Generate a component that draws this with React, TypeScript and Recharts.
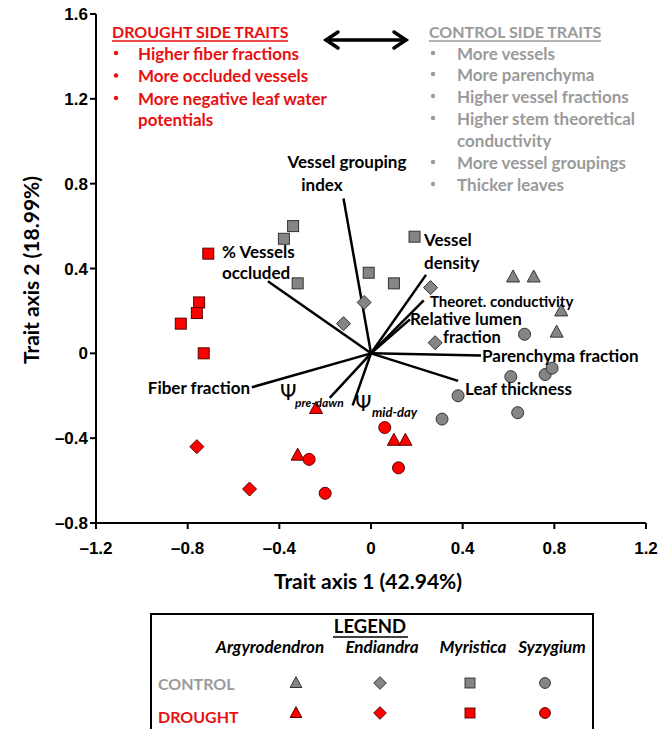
import { ScatterChart, Scatter, XAxis, YAxis, ReferenceLine } from "recharts";

// axis ticks
const xTicks = [-1.2, -0.8, -0.4, 0, 0.4, 0.8, 1.2];
const yTicks = [-0.8, -0.4, 0, 0.4, 0.8, 1.2, 1.6];

// site scores, control trees
const argyControl = [
  [0.62, 0.36],
  [0.71, 0.36],
  [0.83, 0.2],
  [0.81, 0.1],
];
const endiControl = [
  [-0.03, 0.24],
  [-0.12, 0.14],
  [0.26, 0.31],
  [0.28, 0.05],
];
const myriControl = [
  [-0.34, 0.6],
  [-0.38, 0.54],
  [-0.32, 0.33],
  [-0.01, 0.38],
  [0.1, 0.33],
  [0.19, 0.55],
];
const syzyControl = [
  [0.67, 0.09],
  [0.61, -0.11],
  [0.76, -0.1],
  [0.79, -0.07],
  [0.38, -0.2],
  [0.31, -0.31],
  [0.64, -0.28],
];

// site scores, drought trees
const argyDrought = [
  [-0.24, -0.26],
  [-0.32, -0.48],
  [0.1, -0.41],
  [0.15, -0.41],
];
const endiDrought = [
  [-0.76, -0.44],
  [-0.53, -0.64],
];
const myriDrought = [
  [-0.71, 0.47],
  [-0.75, 0.24],
  [-0.76, 0.19],
  [-0.83, 0.14],
  [-0.73, 0.0],
];
const syzyDrought = [
  [0.06, -0.35],
  [-0.27, -0.5],
  [-0.2, -0.66],
  [0.12, -0.54],
];

// trait vectors (loadings)
const traitVectors = [
  { name: "Vessel grouping index", x: -0.12, y: 0.73 },
  { name: "% Vessels occluded", x: -0.45, y: 0.34 },
  { name: "Vessel density", x: 0.24, y: 0.37 },
  { name: "Theoret. conductivity", x: 0.23, y: 0.25 },
  { name: "Relative lumen fraction", x: 0.17, y: 0.16 },
  { name: "Parenchyma fraction", x: 0.48, y: -0.01 },
  { name: "Leaf thickness", x: 0.38, y: -0.13 },
  { name: "Fiber fraction", x: -0.52, y: -0.16 },
  { name: "Psi pre-dawn", x: -0.18, y: -0.21 },
  { name: "Psi mid-day", x: -0.08, y: -0.245 },
];

const droughtTraits = [
  "Higher fiber fractions",
  "More occluded vessels",
  "More negative leaf water",
];
const controlTraits = [
  "More vessels",
  "More parenchyma",
  "Higher vessel fractions",
  "Higher stem theoretical",
  "More vessel groupings",
  "Thicker leaves",
];

const species = ["Argyrodendron", "Endiandra", "Myristica", "Syzygium"];

const GREY = "#858585";
const GREY_EDGE = "#333333";
const RED = "#ff0000";
const RED_EDGE = "#5a0000";
const RED_TEXT = "#e81010";
const GREY_TEXT = "#9a9a9a";
const FONT = "Lato, 'Open Sans', sans-serif";

const toPoints = (arr: number[][]) => arr.map(([x, y]) => ({ x, y }));

function drawMarker(kind: string, cx: number, cy: number, fill: string, stroke: string, s = 1) {
  if (kind === "triangle") {
    return (
      <polygon
        points={`${cx},${cy - 7 * s} ${cx - 6.5 * s},${cy + 5 * s} ${cx + 6.5 * s},${cy + 5 * s}`}
        fill={fill}
        stroke={stroke}
        strokeWidth={1}
      />
    );
  }
  if (kind === "diamond") {
    return (
      <polygon
        points={`${cx},${cy - 7 * s} ${cx + 7 * s},${cy} ${cx},${cy + 7 * s} ${cx - 7 * s},${cy}`}
        fill={fill}
        stroke={stroke}
        strokeWidth={1}
      />
    );
  }
  if (kind === "square") {
    return (
      <rect
        x={cx - 5.5 * s}
        y={cy - 5.5 * s}
        width={11 * s}
        height={11 * s}
        fill={fill}
        stroke={stroke}
        strokeWidth={1}
      />
    );
  }
  return <circle cx={cx} cy={cy} r={6 * s} fill={fill} stroke={stroke} strokeWidth={1} />;
}

const shapeOf = (kind: string, fill: string, stroke: string) => (props: any) =>
  drawMarker(kind, props.cx, props.cy, fill, stroke);

const fmt = (v: number) => (v < 0 ? `\u2013${Math.abs(v)}` : `${v}`);

const series = [
  { data: argyControl, kind: "triangle", fill: GREY, stroke: GREY_EDGE },
  { data: endiControl, kind: "diamond", fill: GREY, stroke: GREY_EDGE },
  { data: myriControl, kind: "square", fill: GREY, stroke: GREY_EDGE },
  { data: syzyControl, kind: "circle", fill: GREY, stroke: GREY_EDGE },
  { data: argyDrought, kind: "triangle", fill: RED, stroke: RED_EDGE },
  { data: endiDrought, kind: "diamond", fill: RED, stroke: RED_EDGE },
  { data: myriDrought, kind: "square", fill: RED, stroke: RED_EDGE },
  { data: syzyDrought, kind: "circle", fill: RED, stroke: RED_EDGE },
];

export default function App() {
  const tickStyle = {
    fill: "#000",
    fontSize: 17,
    fontWeight: "bold" as const,
    fontFamily: "'Liberation Sans', Arial, sans-serif",
  };
  const lbl = { fontFamily: FONT, fontWeight: 700, fontSize: 17, fill: "#000" };
  const legendX = [296, 380, 470, 545];
  const legendNameX = [270, 382, 473, 552];
  const kinds = ["triangle", "diamond", "square", "circle"];

  return (
    <div style={{ position: "absolute", left: 0, top: 0, width: 667, height: 729, background: "#fff" }}>
      <ScatterChart width={667} height={729} margin={{ top: 14, right: 21, bottom: 166, left: 36 }}>
        <XAxis
          type="number"
          dataKey="x"
          domain={[-1.2, 1.2]}
          ticks={xTicks}
          tickFormatter={fmt}
          height={40}
          tick={tickStyle}
          tickSize={6}
          tickMargin={13}
          axisLine={{ stroke: "#000", strokeWidth: 2 }}
          tickLine={{ stroke: "#000", strokeWidth: 2 }}
          allowDataOverflow
        />
        <YAxis
          type="number"
          dataKey="y"
          domain={[-0.8, 1.6]}
          ticks={yTicks}
          tickFormatter={fmt}
          width={60}
          tick={tickStyle}
          tickSize={6}
          axisLine={{ stroke: "#000", strokeWidth: 2 }}
          tickLine={{ stroke: "#000", strokeWidth: 2 }}
          allowDataOverflow
        />
        <XAxis
          xAxisId="top"
          orientation="top"
          type="number"
          domain={[-1.2, 1.2]}
          height={0}
          tick={false}
          tickLine={false}
          axisLine={{ stroke: "#000", strokeWidth: 2 }}
        />
        <YAxis
          yAxisId="right"
          orientation="right"
          type="number"
          domain={[-0.8, 1.6]}
          width={0}
          tick={false}
          tickLine={false}
          axisLine={{ stroke: "#000", strokeWidth: 2 }}
        />
        {traitVectors.map((v) => (
          <ReferenceLine
            key={v.name}
            segment={[
              { x: 0, y: 0 },
              { x: v.x, y: v.y },
            ]}
            stroke="#000"
            strokeWidth={2.5}
            ifOverflow="visible"
          />
        ))}
        {series.map((s, i) => (
          <Scatter
            key={i}
            data={toPoints(s.data)}
            shape={shapeOf(s.kind, s.fill, s.stroke)}
            isAnimationActive={false}
          />
        ))}
      </ScatterChart>

      <svg
        width={667}
        height={729}
        style={{ position: "absolute", left: 0, top: 0, pointerEvents: "none" }}
      >
        {/* drought side box text */}
        <g fontFamily={FONT} fontWeight={700} fontSize={17} fill={RED_TEXT}>
          <text x={112} y={31} fontSize={16} dominantBaseline="central">
            DROUGHT SIDE TRAITS
          </text>
          <line x1={112} x2={288} y1={41} y2={41} stroke={RED_TEXT} strokeWidth={1.5} />
          {droughtTraits.map((t, i) => (
            <g key={t}>
              <circle cx={116} cy={53 + i * 22.5} r={2.2} />
              <text x={138} y={53 + i * 22.5} dominantBaseline="central">
                {t}
              </text>
            </g>
          ))}
          <text x={138} y={119} dominantBaseline="central">
            potentials
          </text>
        </g>

        {/* double arrow */}
        <g stroke="#000" strokeWidth={3.5} fill="none" strokeLinecap="round">
          <line x1={326} x2={406} y1={40} y2={40} />
          <polyline points="338,32 326,40 338,48" />
          <polyline points="394,32 406,40 394,48" />
        </g>

        {/* control side box text */}
        <g fontFamily={FONT} fontWeight={700} fontSize={17} fill={GREY_TEXT}>
          <text x={429} y={31} fontSize={16} dominantBaseline="central">
            CONTROL SIDE TRAITS
          </text>
          <line x1={429} x2={601} y1={41} y2={41} stroke={GREY_TEXT} strokeWidth={1.5} />
          {[53, 74, 96, 118, 162, 184].map((y, i) => (
            <g key={y}>
              <circle cx={433} cy={y} r={2.2} />
              <text x={457} y={y} dominantBaseline="central">
                {controlTraits[i]}
              </text>
            </g>
          ))}
          <text x={457} y={140} dominantBaseline="central">
            conductivity
          </text>
        </g>

        {/* vector labels */}
        <g {...lbl}>
          <text x={347} y={161} textAnchor="middle" dominantBaseline="central">
            Vessel grouping
          </text>
          <text x={322} y={184} textAnchor="middle" dominantBaseline="central">
            index
          </text>
          <text x={222} y={251} dominantBaseline="central">
            % Vessels
          </text>
          <text x={222} y={272} dominantBaseline="central">
            occluded
          </text>
          <text x={424} y={239} dominantBaseline="central">
            Vessel
          </text>
          <text x={424} y={262} dominantBaseline="central">
            density
          </text>
          <text x={430} y={301} fontSize={15} dominantBaseline="central">
            Theoret. conductivity
          </text>
          <text x={410} y={318} dominantBaseline="central">
            Relative lumen
          </text>
          <text x={443} y={337} fontSize={16.5} dominantBaseline="central">
            fraction
          </text>
          <text x={482} y={355} dominantBaseline="central">
            Parenchyma fraction
          </text>
          <text x={465} y={388} dominantBaseline="central">
            Leaf thickness
          </text>
          <text x={250} y={387} textAnchor="end" dominantBaseline="central">
            Fiber fraction
          </text>
          <text
            x={280}
            y={393}
            fontSize={21}
            fontWeight={400}
            fontFamily="'DejaVu Sans', sans-serif"
            dominantBaseline="central"
          >
            Ψ
          </text>
          <text x={295} y={402} fontSize={12} fontStyle="italic" dominantBaseline="central">
            pre-dawn
          </text>
          <text
            x={355}
            y={404}
            fontSize={21}
            fontWeight={400}
            fontFamily="'DejaVu Sans', sans-serif"
            dominantBaseline="central"
          >
            Ψ
          </text>
          <text x={372} y={412} fontSize={13} fontStyle="italic" dominantBaseline="central">
            mid-day
          </text>
        </g>

        {/* axis titles */}
        <text
          x={368}
          y={580}
          textAnchor="middle"
          dominantBaseline="central"
          fontFamily={FONT}
          fontWeight={700}
          fontSize={21}
        >
          Trait axis 1 (42.94%)
        </text>
        <text
          x={30}
          y={270}
          textAnchor="middle"
          dominantBaseline="central"
          fontFamily={FONT}
          fontWeight={700}
          fontSize={21}
          transform="rotate(-90 30 270)"
        >
          Trait axis 2 (18.99%)
        </text>

        {/* legend box */}
        <rect x={151} y={614} width={442} height={130} fill="none" stroke="#000" strokeWidth={2} />
        <g fontFamily={FONT} fontWeight={700} fontSize={17}>
          <text x={370} y={626} fontSize={18.5} textAnchor="middle" dominantBaseline="central">
            LEGEND
          </text>
          <line x1={333} x2={408} y1={637} y2={637} stroke="#000" strokeWidth={1.5} />
          {species.map((s, i) => (
            <text
              key={s}
              x={legendNameX[i]}
              y={646}
              fontStyle="italic"
              textAnchor="middle"
              dominantBaseline="central"
            >
              {s}
            </text>
          ))}
          <text x={158} y={683} fontSize={16} fill={GREY_TEXT} dominantBaseline="central">
            CONTROL
          </text>
          <text x={158} y={716} fontSize={16} fill={RED_TEXT} dominantBaseline="central">
            DROUGHT
          </text>
        </g>
        {kinds.map((k, i) => (
          <g key={k}>
            {drawMarker(k, legendX[i], 683, GREY, GREY_EDGE, 0.9)}
            {drawMarker(k, legendX[i], 713, RED, RED_EDGE, 0.9)}
          </g>
        ))}
      </svg>
    </div>
  );
}
